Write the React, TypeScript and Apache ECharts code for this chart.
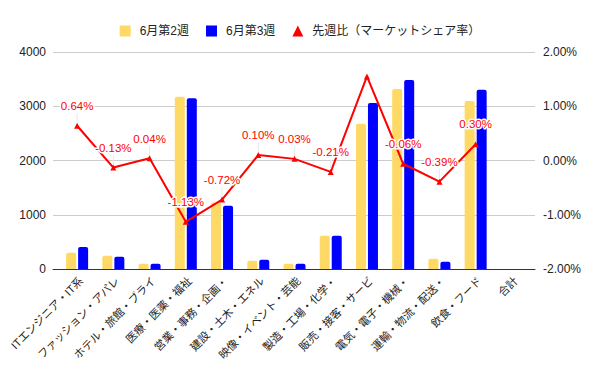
import React, { useEffect, useRef } from "react";
import * as echarts from "echarts";

const categories = [
  "ITエンジニア・IT系",
  "ファッション・アパレ",
  "ホテル・旅館・ブライ",
  "医療・医薬・福祉",
  "営業・事務・企画・",
  "建設・土木・エネル",
  "映像・イベント・芸能",
  "製造・工場・化学・",
  "販売・接客・サービ",
  "電気・電子・機械・",
  "運輸・物流・配送・",
  "飲食・フード",
  "合計",
];

const week2 = [300, 245, 98, 3173, 1227, 153, 98, 613, 2676, 3320, 190, 3098, null];
const week3 = [405, 226, 96, 3149, 1166, 171, 95, 613, 3062, 3486, 134, 3302, null];
const shareChange = [0.64, -0.13, 0.04, -1.13, -0.72, 0.1, 0.03, -0.21, 1.55, -0.06, -0.39, 0.3, null];
const hiddenLabelIndex = [8];

const leftTicks = { min: 0, max: 4000, interval: 1000 };
const rightTicks = { min: -2, max: 2, interval: 1 };

const FONT = "'Liberation Sans', Arial, 'Noto Sans CJK JP', sans-serif";

export default function App() {
  const ref = useRef<HTMLDivElement>(null);
  useEffect(() => {
    if (!ref.current) return;
    document.body.style.margin = "0";
    const chart = echarts.init(ref.current, undefined, { renderer: "svg" });
    const top = 52;
    const bottom = 371 - 269;
    chart.setOption({
      animation: false,
      textStyle: { fontFamily: FONT },
      legend: {
        top: 20,
        left: "center",
        itemWidth: 11,
        itemHeight: 11,
        itemGap: 17,
        textStyle: { fontSize: 12, color: "#222", fontFamily: FONT, padding: [0, 0, 0, 4] },
        data: [
          { name: "6月第2週", icon: "rect" },
          { name: "6月第3週", icon: "rect" },
          { name: "先週比（マーケットシェア率）", icon: "triangle" },
        ],
      },
      grid: [
        { left: 53, right: 600 - 535, top, bottom },
        { left: 59, right: 600 - 530, top, bottom },
      ],
      xAxis: [
        {
          gridIndex: 0,
          type: "value",
          min: 0,
          max: 1,
          axisLine: { show: true, onZero: false, lineStyle: { color: "#333", width: 1 } },
          axisTick: { show: false },
          axisLabel: { show: false },
          splitLine: { show: false },
        },
        {
          gridIndex: 1,
          type: "category",
          data: categories,
          axisLine: { show: false },
          axisTick: { show: false },
          axisLabel: {
            rotate: 45,
            interval: 0,
            fontSize: 11,
            color: "#222",
            margin: 6,
            align: "right",
            verticalAlign: "top",
            fontFamily: FONT,
          },
        },
      ],
      yAxis: [
        {
          gridIndex: 0,
          type: "value",
          ...leftTicks,
          axisLine: { show: false },
          axisTick: { show: false },
          axisLabel: {
            fontSize: 12,
            color: "#222",
            margin: 7,
            fontFamily: FONT,
            formatter: (v: number) => String(v),
          },
          splitLine: { show: true, lineStyle: { color: "#cccccc" } },
        },
        {
          gridIndex: 0,
          type: "value",
          position: "right",
          ...rightTicks,
          axisLine: { show: false },
          axisTick: { show: false },
          axisLabel: {
            fontSize: 12,
            color: "#222",
            margin: 8,
            fontFamily: FONT,
            formatter: (v: number) => v.toFixed(2) + "%",
          },
          splitLine: { show: false },
        },
        {
          gridIndex: 1,
          type: "value",
          ...leftTicks,
          show: false,
          splitLine: { show: false },
        },
        {
          gridIndex: 1,
          type: "value",
          ...rightTicks,
          show: false,
          splitLine: { show: false },
        },
      ],
      series: [
        {
          name: "6月第2週",
          type: "bar",
          xAxisIndex: 1,
          yAxisIndex: 2,
          data: week2,
          barWidth: 10,
          barGap: "20%",
          itemStyle: { color: "#FFD966", borderRadius: [2, 2, 0, 0] },
        },
        {
          name: "6月第3週",
          type: "bar",
          xAxisIndex: 1,
          yAxisIndex: 2,
          data: week3,
          barWidth: 10,
          barGap: "20%",
          itemStyle: { color: "#0000FF", borderRadius: [2, 2, 0, 0] },
        },
        {
          name: "先週比（マーケットシェア率）",
          type: "line",
          xAxisIndex: 1,
          yAxisIndex: 3,
          data: shareChange.map((v, i) =>
            hiddenLabelIndex.includes(i) ? { value: v, label: { show: false } } : v
          ),
          symbol: "triangle",
          symbolSize: 6,
          lineStyle: { color: "#FF0000", width: 2 },
          itemStyle: { color: "#FF0000" },
          z: 5,
          label: {
            show: true,
            position: "top",
            distance: 5,
            color: "#FF0000",
            fontSize: 11.5,
            fontFamily: FONT,
            textBorderColor: "#ffffff",
            textBorderWidth: 3,
            formatter: (p: any) => (p.value == null ? "" : Number(p.value).toFixed(2) + "%"),
          },
          labelLayout: { dy: -6 },
          labelLine: { show: true, lineStyle: { color: "#e8e8e8", width: 1 } },
        },
      ],
    });
    return () => chart.dispose();
  }, []);
  return <div ref={ref} style={{ width: 600, height: 371 }} />;
}
